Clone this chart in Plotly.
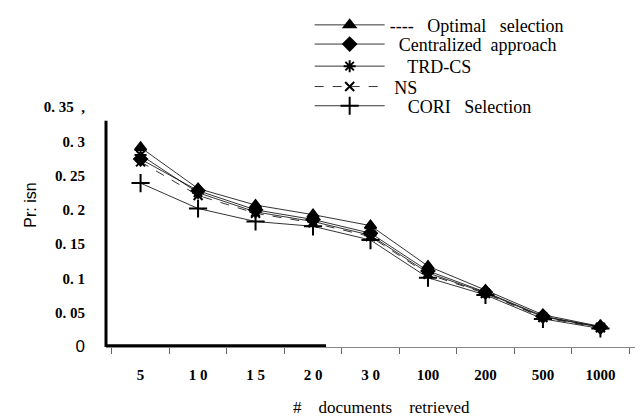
import plotly.graph_objects as go

categories = ["5", "10", "15", "20", "30", "100", "200", "500", "1000"]
x_tick_text = ["5", "1 0", "1 5", "2 0", "3 0", "100", "200", "500", "1000"]

optimal = [0.291, 0.231, 0.207, 0.193, 0.177, 0.118, 0.083, 0.047, 0.030]
centralized = [0.274, 0.228, 0.200, 0.186, 0.166, 0.111, 0.080, 0.045, 0.029]
trd_cs = [0.280, 0.225, 0.197, 0.183, 0.163, 0.108, 0.079, 0.044, 0.029]
ns = [0.270, 0.221, 0.195, 0.181, 0.161, 0.106, 0.078, 0.043, 0.028]
cori = [0.239, 0.202, 0.183, 0.176, 0.156, 0.101, 0.076, 0.041, 0.027]

series_names = ["----   Optimal   selection", "  Centralized  approach", "    TRD-CS", " NS", "    CORI   Selection"]

y_tick_vals = [0, 0.05, 0.1, 0.15, 0.2, 0.25, 0.3, 0.35]
y_tick_text = ['<span style="font-family:Liberation Sans, Arial, sans-serif;font-weight:normal;font-size:17px">0</span>',
               "0. 05", "0. 1", "0. 15", "0. 2", "0. 25", "0. 3", "0. 35  ,"]

serif = "Liberation Serif, Times New Roman, Times, serif"

styles = [
    dict(symbol="triangle-up", size=10, dash="solid"),
    dict(symbol="diamond", size=10, dash="solid"),
    dict(symbol="asterisk-open", size=10, dash="solid"),
    dict(symbol="x-thin-open", size=9, dash="dash"),
    dict(symbol="cross-thin-open", size=13, dash="solid"),
]
data = [optimal, centralized, trd_cs, ns, cori]
legend_ids = ["legend", "legend2", "legend3", "legend4", "legend5"]
legend_rows_y = [1.341, 1.261, 1.169, 1.084, 1.004]

fig = go.Figure()
for name, vals, st, lid in zip(series_names, data, styles, legend_ids):
    fig.add_trace(go.Scatter(
        x=categories, y=vals, name=name, mode="lines+markers", legend=lid,
        line=dict(color="black", width=0.8, dash=st["dash"]),
        marker=dict(symbol=st["symbol"], size=st["size"], color="black",
                    line=dict(color="black", width=2)),
    ))

legend_layout = {}
for lid, ly in zip(legend_ids, legend_rows_y):
    legend_layout[lid] = dict(
        x=0.385, y=ly, xanchor="left", yanchor="middle",
        font=dict(family=serif, size=18, color="black"),
        bgcolor="rgba(0,0,0,0)", itemwidth=70, borderwidth=0,
    )

fig.update_layout(
    width=642, height=418,
    margin=dict(l=106, r=7, t=98, b=71),
    paper_bgcolor="white", plot_bgcolor="white",
    font=dict(family=serif, color="black"),
    showlegend=True,
    **legend_layout,
    xaxis=dict(
        type="category", tickvals=categories, ticktext=x_tick_text,
        tickfont=dict(family=serif, size=15, color="black", weight="bold"),
        showgrid=False, zeroline=False,
        showline=True, linecolor="#888888", linewidth=1,
        ticks="outside", tickson="boundaries", ticklen=6, tickcolor="#666666",
        ticklabelstandoff=14,
    ),
    yaxis=dict(
        range=[0, 0.35], tickvals=y_tick_vals, ticktext=y_tick_text,
        tickfont=dict(family=serif, size=15, color="black", weight="bold"),
        showgrid=False, zeroline=False, showline=False,
        ticks="", ticklabelstandoff=20,
    ),
    shapes=[
        dict(type="line", xref="paper", yref="y", x0=0, x1=0, y0=0, y1=0.33,
             line=dict(color="black", width=3)),
        dict(type="line", xref="paper", yref="y", x0=0, x1=0.416, y0=0.002, y1=0.002,
             line=dict(color="black", width=3)),
    ],
    annotations=[
        dict(text="Pr: isn", xref="paper", yref="paper", x=-0.163, y=0.59,
             textangle=-90, showarrow=False,
             font=dict(family="Liberation Sans, Arial, sans-serif", size=16, color="black")),
        dict(text="#    documents    retrieved", xref="paper", yref="paper",
             x=0.52, y=-0.25, yanchor="middle", showarrow=False,
             font=dict(family=serif, size=17, color="black")),
    ],
)

fig.write_html("out.html")
